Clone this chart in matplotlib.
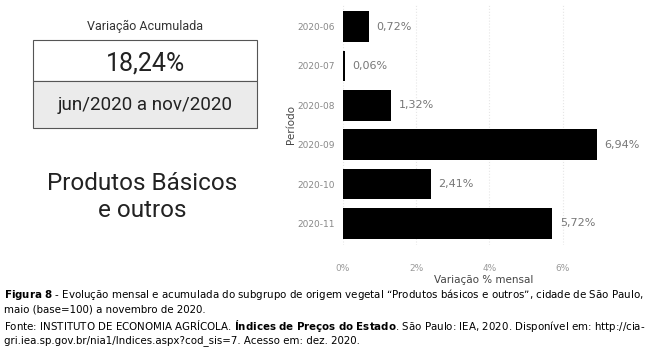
import matplotlib.pyplot as plt
from matplotlib.patches import Rectangle

# data
periodos = ["2020-06", "2020-07", "2020-08", "2020-09", "2020-10", "2020-11"]
variacao = [0.72, 0.06, 1.32, 6.94, 2.41, 5.72]
rotulos = ["0,72%", "0,06%", "1,32%", "6,94%", "2,41%", "5,72%"]
xticks = [0, 2, 4, 6]
xticklabels = ["0%", "2%", "4%", "6%"]

W, H = 655, 357
fig = plt.figure(figsize=(W / 100, H / 100), dpi=100)

# bar chart (right side)
ax = fig.add_axes([343 / W, 1 - 245 / H, (625 - 343) / W, (245 - 5) / H])
ypos = list(range(len(periodos)))
ax.barh(ypos, variacao, height=0.78, color="black")
for y, v, t in zip(ypos, variacao, rotulos):
    ax.text(v + 0.2, y, t, va="center", ha="left", fontsize=8, color="#777777")
ax.set_yticks(ypos)
ax.set_yticklabels(periodos, fontsize=6.5, color="#888888")
ax.set_xticks(xticks)
ax.set_xticklabels(xticklabels, fontsize=6.5, color="#999999")
ax.set_xlim(0, 7.7)
ax.set_ylim(5.55, -0.55)
ax.tick_params(length=0, pad=6)
ax.tick_params(axis="x", pad=14)
ax.grid(axis="x", color="#e6e6e6", linestyle=":", linewidth=0.8)
ax.set_axisbelow(True)
for s in ax.spines.values():
    s.set_visible(False)
ax.set_xlabel("Variação % mensal", fontsize=7.5, color="#444444", labelpad=1)
ax.set_ylabel("Período", fontsize=7.5, color="#444444", labelpad=1)

# left panel
fig.text(145 / W, 1 - 26 / H, "Variação Acumulada", ha="center", va="center",
         fontsize=9, color="#333333", family="Roboto")
fig.patches.append(Rectangle((33 / W, 1 - 81 / H), 224 / W, 41 / H,
                             transform=fig.transFigure, facecolor="white",
                             edgecolor="#555555", linewidth=0.8))
fig.patches.append(Rectangle((33 / W, 1 - 128 / H), 224 / W, 47 / H,
                             transform=fig.transFigure, facecolor="#ebebeb",
                             edgecolor="#555555", linewidth=0.8))
fig.text(146 / W, 1 - 63 / H, "18,24%", ha="center", va="center",
         fontsize=18, color="#222222", family="Roboto")
fig.text(145 / W, 1 - 105 / H, "jun/2020 a nov/2020", ha="center", va="center",
         fontsize=13.5, color="#222222", family="Roboto")
fig.text(142 / W, 1 - 197 / H, "Produtos Básicos\ne outros", ha="center", va="center",
         fontsize=17.5, color="#222222", linespacing=1.2, family="Roboto")

# caption
fs = 7.4
fig.text(4 / W, 1 - 295 / H, r"$\bf{Figura\ 8}$ - Evolução mensal e acumulada do subgrupo de origem vegetal "
         "“Produtos básicos e outros”, cidade de São Paulo,", fontsize=fs, va="center")
fig.text(4 / W, 1 - 310 / H, "maio (base=100) a novembro de 2020.", fontsize=fs, va="center")
fig.text(4 / W, 1 - 326 / H, r"Fonte: INSTITUTO DE ECONOMIA AGRÍCOLA. $\bf{Índices\ de\ Preços\ do\ Estado}$. "
         "São Paulo: IEA, 2020. Disponível em: http://cia-", fontsize=fs, va="center")
fig.text(4 / W, 1 - 341 / H, "gri.iea.sp.gov.br/nia1/Indices.aspx?cod_sis=7. Acesso em: dez. 2020.",
         fontsize=fs, va="center")

fig.savefig("out.png", dpi=100)
